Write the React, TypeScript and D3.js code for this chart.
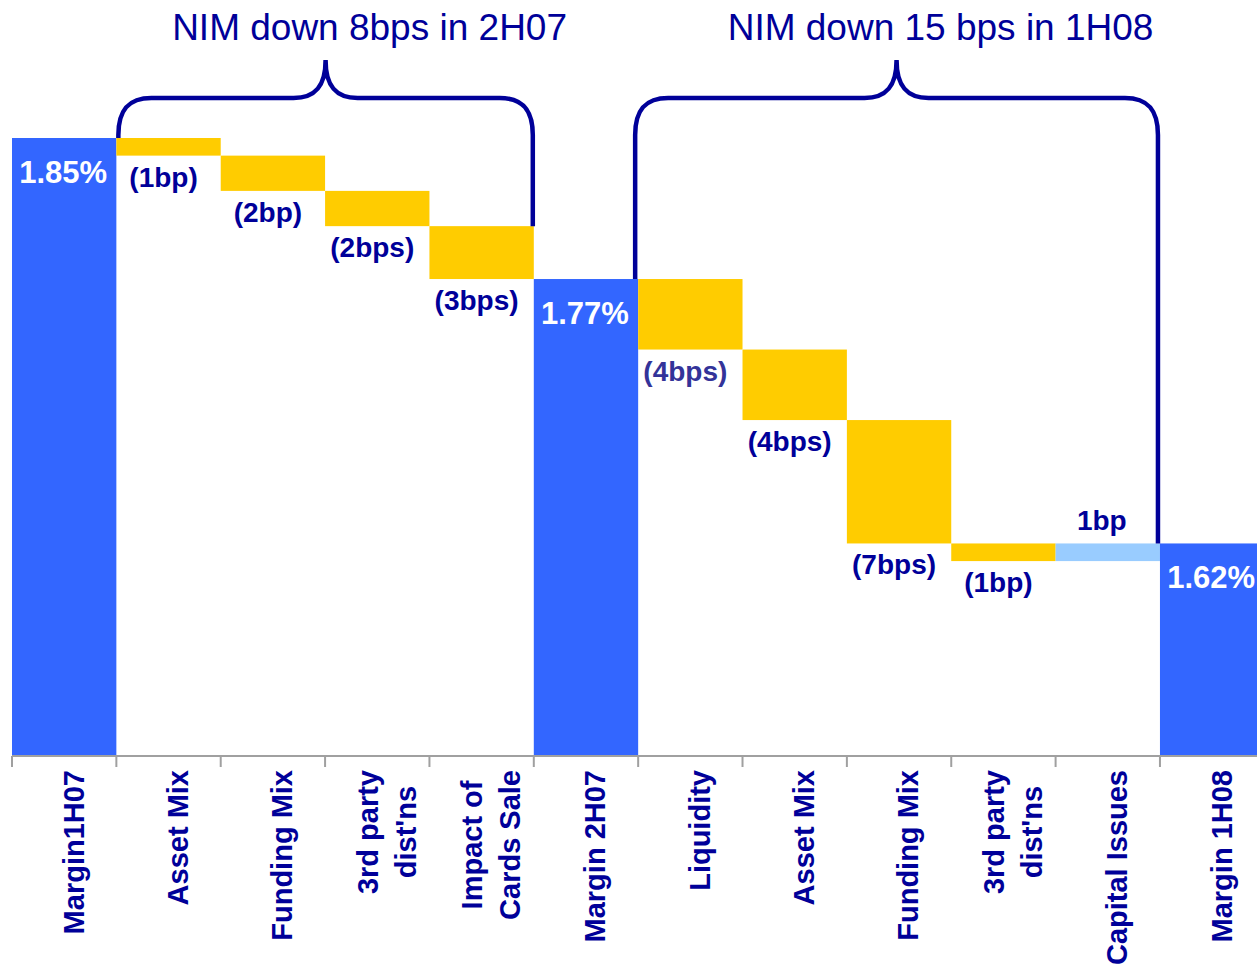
import React from 'react';
import * as d3 from 'd3';

const categories = [
  'Margin1H07', 'Asset Mix', 'Funding Mix', "3rd party\ndist'ns", 'Impact of\nCards Sale',
  'Margin 2H07', 'Liquidity', 'Asset Mix', 'Funding Mix', "3rd party\ndist'ns", 'Capital Issues', 'Margin 1H08',
];
const barKinds = ['total', 'down', 'down', 'down', 'down', 'total', 'down', 'down', 'down', 'down', 'up', 'total'];
const values = [1.85, -0.01, -0.02, -0.02, -0.03, 1.77, -0.04, -0.04, -0.07, -0.01, 0.01, 1.62];
const valueLabels = ['1.85%', '(1bp)', '(2bp)', '(2bps)', '(3bps)', '1.77%', '(4bps)', '(4bps)', '(7bps)', '(1bp)', '1bp', '1.62%'];
const groupTitles = ['NIM down 8bps in 2H07', 'NIM down 15 bps in 1H08'];
const groupStart = [1, 6];
const groupEnd = [4, 10];

const W = 1257;
const H = 965;
const NAVY = '#000099';
const BLUE = '#3366FF';
const YELLOW = '#FFCC00';
const LIGHT = '#99CCFF';
const FONT = '"Liberation Sans", Arial, sans-serif';

let ctx: CanvasRenderingContext2D | null = null;
function measure(text: string, font: string) {
  if (!ctx) ctx = document.createElement('canvas').getContext('2d');
  if (!ctx) return text.length * 16;
  ctx.font = font;
  return ctx.measureText(text).width;
}

export default function App() {
  const x = d3.scaleBand<string>()
    .domain(categories.map((_, i) => String(i)))
    .range([12, 12 + 104.36 * categories.length])
    .padding(0);
  const y = d3.scaleLinear().domain([1.5, 1.85]).range([755, 138]);
  const bw = x.bandwidth();

  let running = 0;
  const bars = values.map((v, i) => {
    const kind = barKinds[i];
    let lo: number, hi: number;
    if (kind === 'total') {
      lo = 1.5; hi = v; running = v;
    } else {
      const start = running;
      const end = running + v;
      lo = Math.min(start, end); hi = Math.max(start, end);
      running = end;
    }
    const x0 = x(String(i)) as number;
    return { i, kind, lo, hi, x0, cx: x0 + bw / 2 };
  });

  const axisY = 756;
  const labelTop = 770;
  const catFont = `bold 29px ${FONT}`;
  const lineGap = 38;

  return (
    <svg width={W} height={H} style={{ position: 'absolute', left: 0, top: 0, background: '#fff' }}
      fontFamily={FONT}>
      {bars.map(b => (
        <rect key={'b' + b.i} x={b.x0} y={y(b.hi)} width={bw} height={y(b.lo) - y(b.hi)}
          fill={b.kind === 'total' ? BLUE : b.kind === 'up' ? LIGHT : YELLOW} />
      ))}

      {/* axis */}
      <line x1={12} x2={W} y1={axisY} y2={axisY} stroke="#a0a0a0" strokeWidth={2} />
      {bars.map(b => (
        <line key={'t' + b.i} x1={b.x0} x2={b.x0} y1={axisY} y2={axisY + 11} stroke="#a0a0a0" strokeWidth={2} />
      ))}

      {/* category labels */}
      {categories.map((c, i) => {
        const lines = c.split('\n');
        const n = lines.length;
        const maxLen = Math.max(...lines.map(l => measure(l, catFont)));
        const cx = bars[i].cx;
        return (
          <g key={'c' + i}>
            {lines.map((l, j) => {
              const bx = cx + 9 + 0.716 * 29 / 2 + (j - (n - 1) / 2) * lineGap;
              const ly = n === 1 ? labelTop : labelTop + maxLen / 2;
              return (
                <text key={j} x={bx} y={ly} transform={`rotate(-90 ${bx} ${ly})`}
                  textAnchor={n === 1 ? 'end' : 'middle'} fontSize={29} fontWeight="bold" fill={NAVY}>{l}</text>
              );
            })}
          </g>
        );
      })}

      {/* value labels */}
      {bars.map(b => {
        const label = valueLabels[b.i];
        if (b.kind === 'total') {
          return <text key={'v' + b.i} x={b.cx - 1} y={y(b.hi) + 45} textAnchor="middle" fontSize={31}
            fontWeight="bold" fill="#fff">{label}</text>;
        }
        if (b.kind === 'up') {
          return <text key={'v' + b.i} x={b.cx - 6} y={y(b.hi) - 13} textAnchor="middle" fontSize={28}
            fontWeight="bold" fill={NAVY}>{label}</text>;
        }
        return <text key={'v' + b.i} x={b.cx - 5} y={y(b.lo) + 31} textAnchor="middle" fontSize={28}
          fontWeight="bold" fill={b.i === 6 ? '#333399' : NAVY}>{label}</text>;
      })}

      {/* braces */}
      {groupTitles.map((t, g) => {
        const s = bars[groupStart[g]];
        const e = bars[groupEnd[g]];
        const xl = s.x0 + (g === 0 ? 2 : -3);
        const xr = e.x0 + bw - (g === 0 ? 1 : 2);
        const yl = y(s.hi);
        const yr = y(e.hi);
        const pk = (xl + xr) / 2;
        const top = 98, peak = 60, side = 135, r = 33;
        const p = d3.path();
        p.moveTo(xl, yl);
        p.lineTo(xl, side);
        p.bezierCurveTo(xl, top + 12, xl + 10, top, xl + r, top);
        p.lineTo(pk - 32, top);
        p.bezierCurveTo(pk - 10, top, pk, top - 12, pk, peak);
        p.bezierCurveTo(pk, top - 12, pk + 10, top, pk + 32, top);
        p.lineTo(xr - r, top);
        p.bezierCurveTo(xr - 10, top, xr, top + 12, xr, side);
        p.lineTo(xr, yr);
        return (
          <g key={'g' + g}>
            <path d={p.toString()} fill="none" stroke={NAVY} strokeWidth={4.5} />
            <text x={pk + 44} y={40} textAnchor="middle" fontSize={37} fill={NAVY}>{t}</text>
          </g>
        );
      })}
    </svg>
  );
}
